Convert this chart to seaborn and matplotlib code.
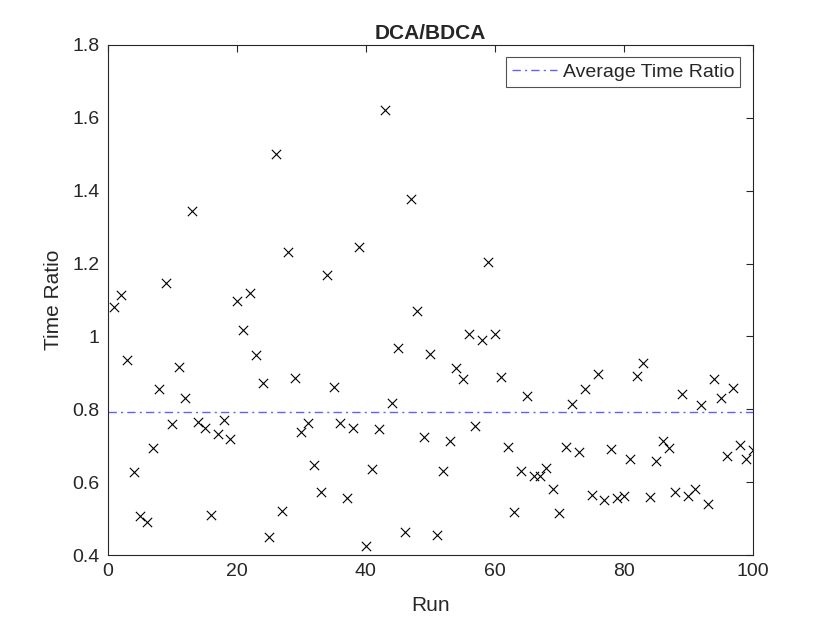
import numpy as np
import pandas as pd
import matplotlib
matplotlib.use("Agg")
import matplotlib.pyplot as plt
import seaborn as sns

# values
runs = list(range(1, 101))
time_ratio = [
    1.080, 1.115, 0.935, 0.627, 0.508, 0.490, 0.695, 0.855, 1.147, 0.760,
    0.917, 0.830, 1.345, 0.765, 0.748, 0.510, 0.733, 0.770, 0.718, 1.097,
    1.018, 1.120, 0.950, 0.872, 0.450, 1.500, 0.520, 1.233, 0.885, 0.738,
    0.763, 0.647, 0.573, 1.168, 0.862, 0.763, 0.558, 0.750, 1.246, 0.425,
    0.636, 0.746, 1.620, 0.818, 0.968, 0.462, 1.378, 1.070, 0.725, 0.952,
    0.455, 0.630, 0.712, 0.913, 0.882, 1.008, 0.753, 0.990, 1.205, 1.006,
    0.888, 0.697, 0.518, 0.632, 0.837, 0.617, 0.617, 0.640, 0.581, 0.515,
    0.696, 0.815, 0.682, 0.855, 0.565, 0.897, 0.550, 0.692, 0.557, 0.562,
    0.665, 0.892, 0.928, 0.560, 0.657, 0.712, 0.693, 0.572, 0.842, 0.563,
    0.580, 0.812, 0.540, 0.884, 0.832, 0.672, 0.858, 0.703, 0.665, 0.688,
]
avg_ratio = 0.793

df = pd.DataFrame({"Run": runs, "Time Ratio": time_ratio})

sns.set_style("white")
plt.rcParams["font.family"] = ["Liberation Sans", "DejaVu Sans"]

fig = plt.figure(figsize=(8.3, 6.23), dpi=100)
ax = fig.add_axes([0.13, 0.109, 0.777, 0.819])

sns.scatterplot(data=df, x="Run", y="Time Ratio", marker="x", color="black",
                s=45, linewidth=0.8, ax=ax, legend=False)
ax.axhline(avg_ratio, color="#6060ff", linestyle=(0, (6, 3, 1.5, 3)),
           linewidth=1.0, label="Average Time Ratio")

ax.set_xlim(0, 100)
ax.set_ylim(0.4, 1.8)
ax.set_xticks([0, 20, 40, 60, 80, 100])
ax.set_yticks(np.round(np.arange(0.4, 1.81, 0.2), 1))
ax.set_yticklabels(["0.4", "0.6", "0.8", "1", "1.2", "1.4", "1.6", "1.8"])

for sp in ax.spines.values():
    sp.set_color("#262626")
    sp.set_linewidth(0.8)
ax.tick_params(direction="in", top=True, right=True, length=5, width=0.8,
               colors="#262626", labelsize=14, pad=6)
ax.set_xlabel("Run", fontsize=15, color="#262626", labelpad=11)
ax.set_ylabel("Time Ratio", fontsize=15, color="#262626", labelpad=6.5)
ax.set_title("DCA/BDCA", fontsize=15, fontweight="bold", pad=4)

leg = ax.legend(loc="upper right", fontsize=14, frameon=True, fancybox=False,
                edgecolor="#262626", handlelength=2.3, handletextpad=0.3,
                borderpad=0.3, borderaxespad=0.65)
leg.get_frame().set_linewidth(0.8)

fig.savefig("out.png", dpi=100)
